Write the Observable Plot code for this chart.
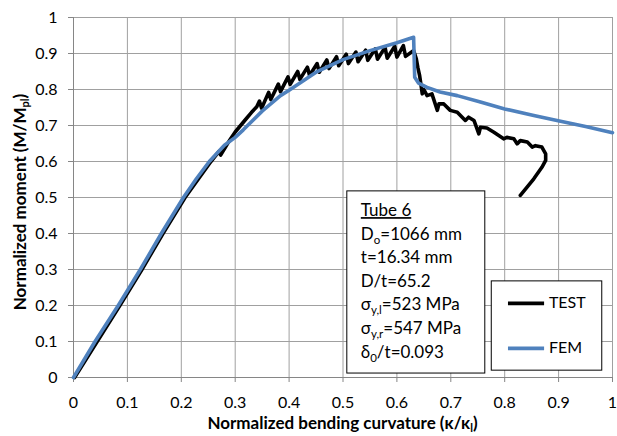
<!DOCTYPE html>
<html><head><meta charset="utf-8">
<script src="https://cdn.jsdelivr.net/npm/d3@7"></script>
<script src="https://cdn.jsdelivr.net/npm/@observablehq/plot@0.6"></script>
<style>body{margin:0;background:#fff;} svg{display:block;}</style>
</head><body><div id="chart"></div><script>
// ---- data ----
const xTicks = [0, 0.1, 0.2, 0.3, 0.4, 0.5, 0.6, 0.7, 0.8, 0.9, 1];
const xTickLabels = ["0", "0.1", "0.2", "0.3", "0.4", "0.5", "0.6", "0.7", "0.8", "0.9", "1"];
const yTicks = [0, 0.1, 0.2, 0.3, 0.4, 0.5, 0.6, 0.7, 0.8, 0.9, 1];
const yTickLabels = ["0", "0.1", "0.2", "0.3", "0.4", "0.5", "0.6", "0.7", "0.8", "0.9", "1"];

const seriesNames = ["TEST", "FEM"];

const femX = [0, 0.04, 0.083, 0.124, 0.163, 0.204, 0.228, 0.252, 0.28, 0.3, 0.315, 0.35, 0.384, 0.4, 0.45, 0.5, 0.55, 0.6, 0.631,
  0.633, 0.64, 0.656, 0.68, 0.712, 0.755, 0.8, 0.854, 0.897, 0.95, 1.0];
const femY = [0, 0.1, 0.2, 0.3, 0.4, 0.5, 0.552, 0.6, 0.645, 0.667, 0.688, 0.74, 0.783, 0.798, 0.848, 0.883, 0.908, 0.93, 0.945,
  0.834, 0.818, 0.806, 0.793, 0.783, 0.765, 0.746, 0.728, 0.714, 0.697, 0.68];

const testX = [0.002, 0.021, 0.044, 0.086, 0.127, 0.166, 0.207, 0.231, 0.255, 0.27, 0.273, 0.282, 0.29, 0.3, 0.31, 0.32, 0.33, 0.34,
  0.345, 0.349, 0.362, 0.366, 0.38, 0.384, 0.398, 0.402, 0.416, 0.42, 0.434, 0.438, 0.452, 0.456, 0.47, 0.474,
  0.488, 0.492, 0.506, 0.51, 0.524, 0.528, 0.542, 0.546, 0.56, 0.564, 0.578, 0.582, 0.596, 0.6, 0.612, 0.616, 0.628,
  0.631, 0.636, 0.639, 0.642, 0.645, 0.647, 0.65, 0.656, 0.665, 0.675, 0.678, 0.687, 0.699, 0.712, 0.727, 0.733, 0.743,
  0.752, 0.755, 0.767, 0.78, 0.789, 0.798, 0.804, 0.817, 0.823, 0.829, 0.842, 0.851, 0.857, 0.869, 0.876, 0.876, 0.869, 0.854, 0.829];
const testY = [0, 0.045, 0.1, 0.2, 0.3, 0.4, 0.5, 0.55, 0.6, 0.628, 0.618, 0.64, 0.66, 0.682, 0.7, 0.718, 0.736, 0.752,
  0.768, 0.748, 0.792, 0.772, 0.815, 0.794, 0.835, 0.814, 0.85, 0.828, 0.862, 0.839, 0.872, 0.848, 0.882, 0.858,
  0.891, 0.866, 0.898, 0.872, 0.904, 0.877, 0.909, 0.881, 0.913, 0.884, 0.917, 0.887, 0.92, 0.89, 0.922, 0.892, 0.905,
  0.908, 0.885, 0.86, 0.84, 0.81, 0.788, 0.8, 0.783, 0.788, 0.742, 0.76, 0.76, 0.742, 0.737, 0.714, 0.723, 0.714,
  0.677, 0.695, 0.693, 0.681, 0.672, 0.663, 0.667, 0.663, 0.649, 0.658, 0.654, 0.64, 0.644, 0.64, 0.621, 0.603, 0.584, 0.552, 0.506];

// annotation text
const infoTitle = "Tube 6";
const infoLines = [
  [{t: "D"}, {t: "o", sub: true}, {t: "=1066 mm"}],
  [{t: "t=16.34 mm"}],
  [{t: "D/t=65.2"}],
  [{t: "σ"}, {t: "y,l", sub: true}, {t: "=523 MPa"}],
  [{t: "σ"}, {t: "y,r", sub: true}, {t: "=547 MPa"}],
  [{t: "δ"}, {t: "0", sub: true}, {t: "/t=0.093"}]
];

// ---- build tables ----
const fem = femX.map((x, i) => ({x, y: femY[i]}));
const test = testX.map((x, i) => ({x, y: testY[i]}));

// layout (in data units)
const infoBox = {x1: 0.508, x2: 0.764, y1: 0.011, y2: 0.517};
const legendBox = {x1: 0.776, x2: 0.981, y1: 0.019, y2: 0.267};
const legendRows = [{name: seriesNames[0], y: 0.206, color: "#000000"}, {name: seriesNames[1], y: 0.081, color: "#4F81BD"}];
const legendLineX = [0.807, 0.874];
const legendTextX = 0.882;

const font = "Lato, 'Open Sans', sans-serif";

const plot = Plot.plot({
  width: 617, height: 436,
  marginLeft: 73, marginRight: 5, marginTop: 17, marginBottom: 59,
  x: {domain: [0, 1]},
  y: {domain: [0, 1]},
  style: {fontFamily: font, fontSize: "16px", color: "#000", background: "#fff"},
  marks: [
    Plot.gridX(xTicks, {stroke: "#a0a0a0", strokeOpacity: 1, strokeWidth: 1}),
    Plot.gridY(yTicks, {stroke: "#a0a0a0", strokeOpacity: 1, strokeWidth: 1}),
    Plot.ruleY([0], {stroke: "#868686"}),
    Plot.ruleX([0], {stroke: "#868686"}),
    Plot.axisX(xTicks, {tickSize: 5, tickPadding: 14, stroke: "#868686", fill: "#000",
      tickFormat: d => xTickLabels[xTicks.indexOf(d)], label: null, fontSize: 16}),
    Plot.axisY(yTicks, {tickSize: 5, tickPadding: 11, stroke: "#868686", fill: "#000",
      tickFormat: d => yTickLabels[yTicks.indexOf(d)], label: null, fontSize: 16}),
    Plot.line(test, {x: "x", y: "y", stroke: "#000", strokeWidth: 3.6, strokeLinejoin: "round", strokeLinecap: "round"}),
    Plot.line(fem, {x: "x", y: "y", stroke: "#4F81BD", strokeWidth: 3.6, strokeLinejoin: "round"}),
    Plot.rect([infoBox], {x1: "x1", x2: "x2", y1: "y1", y2: "y2", fill: "#fff", stroke: "#000", strokeWidth: 1}),
    Plot.rect([legendBox], {x1: "x1", x2: "x2", y1: "y1", y2: "y2", fill: "#fff", stroke: "#000", strokeWidth: 1}),
    Plot.ruleY(legendRows, {y: "y", x1: legendLineX[0], x2: legendLineX[1], stroke: "color", strokeWidth: 3.6}),
    Plot.text(legendRows, {x: legendTextX, y: "y", text: "name", textAnchor: "start", fontSize: 16, fill: "#000"})
  ]
});

document.getElementById("chart").appendChild(plot);

// ---- rich text (subscripts) placed through the plot's scales ----
const sx = plot.scale("x"), sy = plot.scale("y");
const svg = d3.select(plot);
const g = svg.append("g").attr("font-family", font).attr("fill", "#000").attr("text-anchor", "start");

function rich(parent, parts, subSize, shift) {
  let prevSub = false;
  parts.forEach(p => {
    const ts = parent.append("tspan").text(p.t);
    if (p.sub) { ts.attr("font-size", subSize).attr("dy", shift); prevSub = true; }
    else if (prevSub) { ts.attr("dy", -shift); prevSub = false; }
  });
}

// info box text
const infoX = sx.apply(0.534);
const infoTop = sy.apply(0.447);
const lineStep = 23.6;
g.append("text").attr("x", infoX).attr("y", infoTop).attr("font-size", 17).attr("text-anchor", "start")
  .attr("text-decoration", "underline").text(infoTitle);
infoLines.forEach((parts, i) => {
  const t = g.append("text").attr("x", infoX).attr("y", infoTop + lineStep * (i + 1))
    .attr("font-size", 17).attr("text-anchor", "start");
  rich(t, parts, 11.5, 4);
});

// axis titles
const xt = g.append("text").attr("x", (sx.apply(0) + sx.apply(1)) / 2).attr("y", 429)
  .attr("text-anchor", "middle").attr("font-weight", "bold").attr("font-size", 17);
rich(xt, [{t: "Normalized bending curvature (κ/κ"}, {t: "l", sub: true}, {t: ")"}], 11, 3);

const ytX = 26, ytY = (sy.apply(0) + sy.apply(1)) / 2 + 5;
const yt = g.append("text").attr("transform", `translate(${ytX},${ytY}) rotate(-90)`)
  .attr("text-anchor", "middle").attr("font-weight", "bold").attr("font-size", 17);
rich(yt, [{t: "Normalized moment (M/M"}, {t: "pl", sub: true}, {t: ")"}], 11, 3);
</script></body></html>
